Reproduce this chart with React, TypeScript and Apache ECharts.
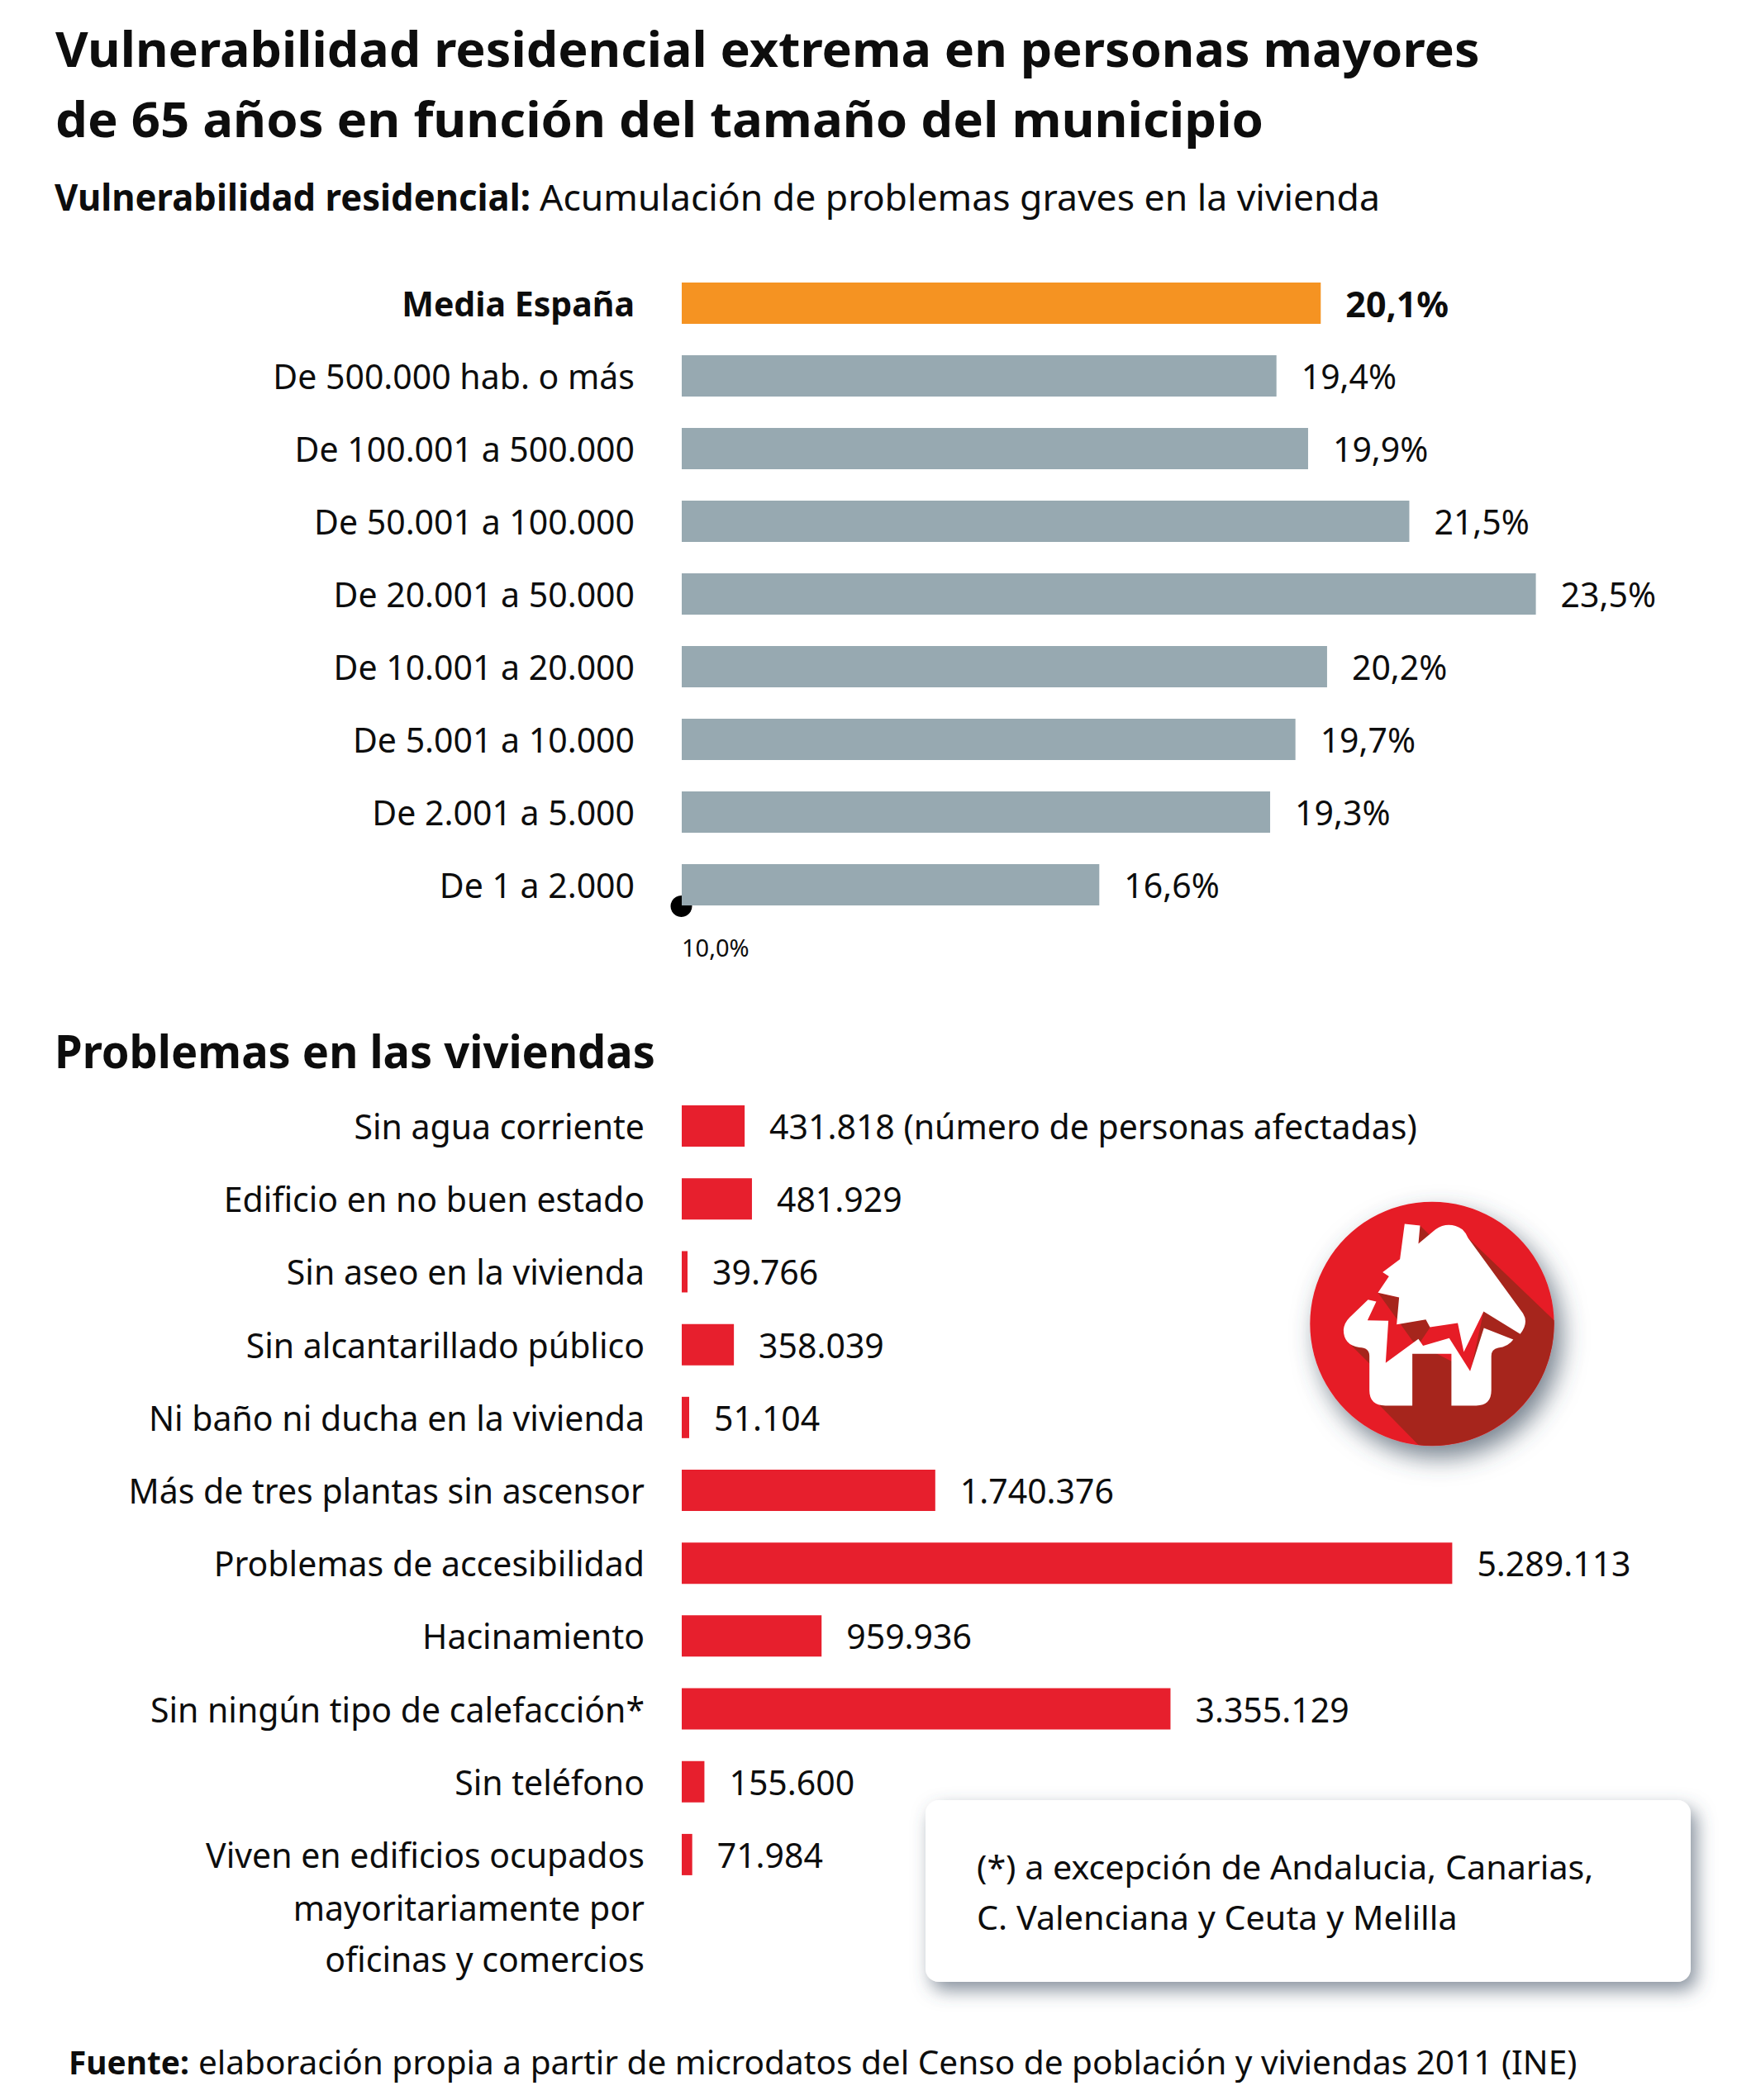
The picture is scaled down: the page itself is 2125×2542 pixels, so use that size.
import React, { useEffect, useRef } from "react";
import * as echarts from "echarts";

const topCategories = ["Media España", "De 500.000 hab. o más", "De 100.001 a 500.000", "De 50.001 a 100.000", "De 20.001 a 50.000", "De 10.001 a 20.000", "De 5.001 a 10.000", "De 2.001 a 5.000", "De 1 a 2.000"];
const topValues = [20.1, 19.4, 19.9, 21.5, 23.5, 20.2, 19.7, 19.3, 16.6];
const bottomCategories = ["Sin agua corriente", "Edificio en no buen estado", "Sin aseo en la vivienda", "Sin alcantarillado público", "Ni baño ni ducha en la vivienda", "Más de tres plantas sin ascensor", "Problemas de accesibilidad", "Hacinamiento", "Sin ningún tipo de calefacción*", "Sin teléfono", "Viven en edificios ocupados"];
const bottomValues = [431818, 481929, 39766, 358039, 51104, 1740376, 5289113, 959936, 3355129, 155600, 71984];

const FONT = "'Noto Sans', 'Open Sans', sans-serif";
const INK = "#0d0d0d";
const LABEL_SIZE = 41;

const roofPath = "M600 185 L656 191 L650 257 L712 205 Q760 172 810 205 Q822 216 830 235 L1030 510 Q1052 545 1020 585 L887 503 L815 650 L793 545 L692 560 L677 532 L571 550 L580 452 L503 435 L543 375 L520 360 L583 313 Z";
const basePath = "M467 460 L497 467 L465 535 L541 537 L531 690 L650 603 L667 628 L762 600 L838 720 L888 563 L995 605 Q975 632 940 635 Q915 640 915 665 L915 790 Q915 845 860 845 L770 845 L770 657 L628 657 L628 845 L530 845 Q472 845 472 790 L472 665 Q472 635 435 634 Q378 625 378 570 Q380 545 400 525 Z";
const longShadowPath = "M830 235 L1143 535 A443 443 0 0 1 650 988 L510 845 L628 657 L800 400 Z M656 191 L692 226 L650 257 Z M503 435 L630 612 L840 720 L887 503 L580 452 Z M405 625 L474 694 L474 650 L450 632 Z";

echarts.graphic.registerShape("quakeRoof", echarts.graphic.extendPath(roofPath, {}) as any);
echarts.graphic.registerShape("quakeBase", echarts.graphic.extendPath(basePath, {}) as any);
echarts.graphic.registerShape("quakeShadow", echarts.graphic.extendPath(longShadowPath, {}) as any);

const spanish = (n: number) => String(n).replace(/\B(?=(\d{3})+(?!\d))/g, ".");
const percent = (n: number) => n.toFixed(1).replace(".", ",") + "%";

function fitText(text: string, x: number, right: number, y: number, size: number, weight: string | number = 400) {
  const ctx = document.createElement("canvas").getContext("2d")!;
  ctx.font = `${weight} ${size}px 'Noto Sans'`;
  const w = ctx.measureText(text).width;
  return {
    type: "text", x, y, scaleX: (right - x) / w, silent: true,
    style: { text, fontFamily: FONT, fontSize: size, fontWeight: weight, fill: INK, align: "left", verticalAlign: "middle" },
  };
}
const rightText = (text: string, x: number, y: number) => ({
  type: "text", x, y, silent: true,
  style: { text, fontFamily: FONT, fontSize: LABEL_SIZE, fill: INK, align: "right", verticalAlign: "middle" },
});

export default function App() {
  const ref = useRef<HTMLDivElement>(null);
  useEffect(() => {
    document.body.style.margin = "0";
    const chart = echarts.init(ref.current!, undefined, { renderer: "svg" });
    const iconT = { x: 1500, y: 1420, scaleX: 1 / 3, scaleY: 1 / 3 };
    chart.setOption({
      animation: false,
      backgroundColor: "#fff",
      grid: [
        { left: 825, top: 323, width: 1225, height: 792 },
        { left: 825, top: 1319, width: 1234, height: 970 },
      ],
      xAxis: [
        {
          gridIndex: 0, type: "value", min: 10, max: 26, interval: 8,
          splitLine: { show: false }, axisLine: { show: false }, axisTick: { show: false },
          axisLabel: {
            show: true, margin: 17, fontFamily: FONT, fontSize: 29, color: INK, align: "left",
            formatter: (v: number) => (v === 10 ? percent(v) : ""),
          },
        },
        {
          gridIndex: 1, type: "value", min: 0, max: 7000000,
          splitLine: { show: false }, axisLine: { show: false }, axisTick: { show: false }, axisLabel: { show: false },
        },
      ],
      yAxis: [
        {
          gridIndex: 0, type: "category", inverse: true,
          data: topCategories.map((c, i) => (i === 0 ? { value: c, textStyle: { fontWeight: 700 } } : c)),
          axisLine: { show: false }, axisTick: { show: false },
          axisLabel: { margin: 57, fontFamily: FONT, fontSize: LABEL_SIZE, color: INK, padding: [6, 0, 0, 0] },
        },
        {
          gridIndex: 1, type: "category", inverse: true, data: bottomCategories,
          axisLine: { show: false }, axisTick: { show: false },
          axisLabel: { margin: 45, fontFamily: FONT, fontSize: LABEL_SIZE, color: INK, padding: [4, 0, 0, 0] },
        },
      ],
      series: [
        {
          type: "bar", xAxisIndex: 0, yAxisIndex: 0, barWidth: 50,
          data: topValues.map((v, i) => ({
            value: v,
            itemStyle: { color: i === 0 ? "#f59322" : "#97a9b1" },
            label: i === 0 ? { fontWeight: 700, fontSize: 43 } : undefined,
          })),
          label: {
            show: true, position: "right", distance: 30, fontFamily: FONT, fontSize: LABEL_SIZE, color: INK,
            formatter: (p: any) => percent(p.value),
          },
        },
        {
          type: "bar", xAxisIndex: 1, yAxisIndex: 1, barWidth: 50,
          itemStyle: { color: "#e71f2d" },
          data: bottomValues,
          label: {
            show: true, position: "right", distance: 30, fontFamily: FONT, fontSize: LABEL_SIZE, color: INK,
            formatter: (p: any) => (p.dataIndex === 0 ? `${spanish(p.value)} (número de personas afectadas)` : spanish(p.value)),
          },
        },
      ],
      graphic: [
        fitText("Vulnerabilidad residencial extrema en personas mayores", 67, 1791, 58, 60, 700),
        fitText("de 65 años en función del tamaño del municipio", 67, 1530, 143, 60, 700),
        fitText("Vulnerabilidad residencial:", 66, 642, 238, 44, 700),
        fitText("Acumulación de problemas graves en la vivienda", 653, 1670, 238, 44),
        fitText("Problemas en las viviendas", 66, 793, 1272, 55, 700),
        fitText("Fuente:", 83, 229, 2496, 40, 700),
        fitText("elaboración propia a partir de microdatos del Censo de población y viviendas 2011 (INE)", 240, 1909, 2496, 40),
        rightText("mayoritariamente por", 780, 2309),
        rightText("oficinas y comercios", 780, 2371),
        { type: "circle", silent: true, shape: { cx: 824.5, cy: 1097, r: 13 }, style: { fill: "#000" } },
        {
          type: "rect", silent: true, shape: { x: 1120, y: 2179, width: 926, height: 220, r: 16 },
          style: { fill: "#fff", shadowBlur: 22, shadowOffsetX: 7, shadowOffsetY: 10, shadowColor: "rgba(70,85,105,0.65)" },
        },
        fitText("(*) a excepción de Andalucia, Canarias,", 1182, 1929, 2260, 40),
        fitText("C. Valenciana y Ceuta y Melilla", 1182, 1764, 2321, 40),
        {
          type: "circle", silent: true, shape: { cx: 1733, cy: 1602.5, r: 147.7 },
          style: { fill: "#e61e25", shadowBlur: 30, shadowOffsetX: 9, shadowOffsetY: 14, shadowColor: "rgba(60,75,95,0.7)" },
        },
        { type: "quakeShadow", silent: true, ...iconT, style: { fill: "#a6251c" } },
        { type: "quakeRoof", silent: true, ...iconT, style: { fill: "#fff" } },
        { type: "quakeBase", silent: true, ...iconT, style: { fill: "#fff" } },
      ],
    });
    return () => chart.dispose();
  }, []);
  return <div ref={ref} style={{ position: "absolute", left: 0, top: 0, width: 2125, height: 2542 }} />;
}
